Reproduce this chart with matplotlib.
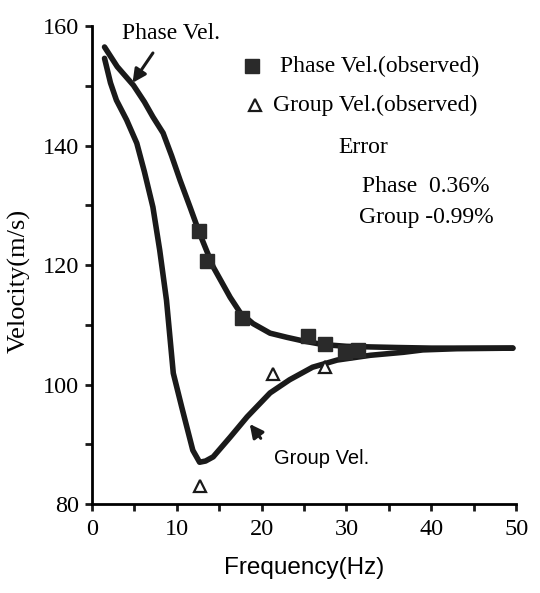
import matplotlib
matplotlib.use("Agg")
import matplotlib.pyplot as plt

# Theoretical curves
phase_f = [1.5, 3.0, 4.9, 6.2, 7.2, 8.4, 9.4, 10.4, 11.6, 12.7, 14.3, 16.3, 17.5, 19.0, 21.0, 23.0, 24.9, 27.2, 30.0, 32.8, 36.0, 40.0, 45.0, 49.6]
phase_v = [156.5, 153.2, 150.1, 147.3, 144.8, 142.1, 138.3, 134.2, 129.6, 125.3, 119.7, 114.6, 112.0, 110.2, 108.6, 107.9, 107.3, 106.7, 106.4, 106.3, 106.2, 106.1, 106.1, 106.1]

group_f = [1.5, 2.2, 2.9, 4.1, 5.3, 6.2, 7.2, 8.0, 8.8, 9.6, 10.6, 11.9, 12.7, 13.4, 14.3, 16.3, 18.3, 21.0, 23.3, 26.0, 28.9, 32.8, 36.7, 39.0, 43.0, 49.6]
group_v = [154.6, 150.5, 147.6, 144.3, 140.4, 135.6, 129.7, 122.5, 114.1, 101.9, 96.2, 89.0, 87.0, 87.2, 87.9, 91.2, 94.6, 98.6, 100.8, 102.9, 104.1, 104.9, 105.4, 105.8, 106.0, 106.1]

# Observed values
obs_phase_f = [12.6, 13.6, 17.7, 25.5, 27.5, 29.8, 31.4]
obs_phase_v = [125.7, 120.7, 111.1, 108.1, 106.8, 105.4, 105.8]
obs_group_f = [12.7, 21.4, 27.5]
obs_group_v = [83.0, 101.7, 102.9]

x_ticks = [0, 10, 20, 30, 40, 50]
y_ticks = [80, 100, 120, 140, 160]

serif = ["Liberation Serif", "DejaVu Serif"]
sans = ["Liberation Sans", "DejaVu Sans"]

fig = plt.figure(figsize=(5.40, 5.93), dpi=100)
ax = fig.add_axes([0.170, 0.150, 0.786, 0.806])

ax.plot(phase_f, phase_v, color="#1a1a1a", lw=4, solid_capstyle="round", solid_joinstyle="round")
ax.plot(group_f, group_v, color="#1a1a1a", lw=4, solid_capstyle="round", solid_joinstyle="round")
ax.plot(obs_phase_f, obs_phase_v, ls="none", marker="s", ms=9.5, color="#2a2a2a", mec="#2a2a2a")
ax.plot(obs_group_f, obs_group_v, ls="none", marker="^", ms=8, mfc="white", mec="#1a1a1a", mew=1.6)

ax.set_xlim(0, 50)
ax.set_ylim(80, 160)
ax.set_xticks(x_ticks)
ax.set_yticks(y_ticks)
ax.set_xticks([5, 15, 25, 35, 45], minor=True)
ax.set_yticks([90, 110, 130, 150], minor=True)
for s in ["top", "right"]:
    ax.spines[s].set_visible(False)
for s in ["left", "bottom"]:
    ax.spines[s].set_linewidth(2)
ax.tick_params(which="both", direction="out", width=2, length=5, color="#1a1a1a")
ax.tick_params(axis="y", pad=4)
ax.tick_params(axis="x", pad=6)
ax.set_xticklabels([str(t) for t in x_ticks], fontfamily=serif, fontsize=17.5)
ax.set_yticklabels([str(t) for t in y_ticks], fontfamily=serif, fontsize=17.5)
ax.set_xlabel("Frequency(Hz)", fontfamily=sans, fontsize=17.5, labelpad=12)
ax.set_ylabel("Velocity(m/s)", fontfamily=serif, fontsize=19, va="center")
ax.yaxis.set_label_coords(-0.17, 0.467)

# Legend-like annotations
fs = 17
ax.plot([18.9], [153.3], ls="none", marker="s", ms=9.5, color="#2a2a2a", clip_on=False)
ax.text(22.2, 153.3, "Phase Vel.(observed)", fontfamily=serif, fontsize=fs, va="center")
ax.plot([19.2], [146.8], ls="none", marker="^", ms=8, mfc="white", mec="#1a1a1a", mew=1.6, clip_on=False)
ax.text(21.3, 146.8, "Group Vel.(observed)", fontfamily=serif, fontsize=fs, va="center")
ax.text(29.1, 139.6, "Error", fontfamily=serif, fontsize=fs, va="center")
ax.text(31.8, 133.2, "Phase  0.36%", fontfamily=serif, fontsize=fs, va="center")
ax.text(31.5, 127.9, "Group -0.99%", fontfamily=serif, fontsize=fs, va="center")

ax.text(3.5, 158.7, "Phase Vel.", fontfamily=serif, fontsize=fs, va="center", ha="left")
ax.annotate("", xy=(4.8, 150.5), xytext=(7.2, 155.5),
            arrowprops=dict(arrowstyle="-|>", color="#1a1a1a", lw=2.2, mutation_scale=20, shrinkA=0, shrinkB=0))
ax.annotate("", xy=(18.6, 93.4), xytext=(19.9, 91.0),
            arrowprops=dict(arrowstyle="-|>", color="#1a1a1a", lw=2.2, mutation_scale=20, shrinkA=0, shrinkB=0))
ax.text(21.5, 87.6, "Group Vel.", fontfamily=sans, fontsize=14.5, va="center")

fig.savefig("out.png", dpi=100)
